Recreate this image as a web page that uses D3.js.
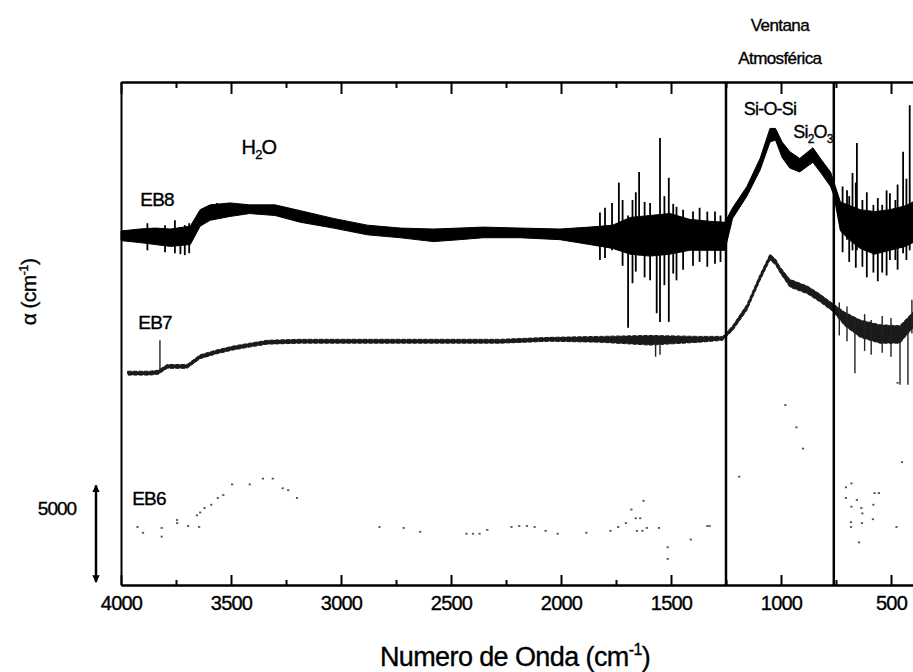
<!DOCTYPE html>
<html>
<head>
<meta charset="utf-8">
<script src="https://cdn.jsdelivr.net/npm/d3@7"></script>
<style>
  body { margin: 0; background: #fff; }
  svg { font-family: "Liberation Sans", Arial, sans-serif; }
  svg text { stroke: #000; stroke-width: 0.35px; }
</style>
</head>
<body>
<div id="chart"></div>
<script>
// wavenumber ticks (cm-1)
const waveTicks = [4000, 3500, 3000, 2500, 2000, 1500, 1000, 500];
const waveMinorTicks = [3750, 3250, 2750, 2250, 1750, 1250, 750];
const windowEdges = [1250, 760];

// EB8: envelope of the noisy trace (top / bottom), alpha in cm-1 with offset
const eb8Wave = [4000, 3915, 3845, 3775, 3685, 3640, 3595, 3505, 3415, 3300, 3185, 3035, 2880, 2730, 2580, 2460, 2355, 2185, 2005, 1870, 1765, 1685, 1595, 1505, 1415, 1325, 1255, 1220, 1155, 1095, 1050, 1025, 995, 960, 915, 855, 815, 775, 760, 730, 685, 640, 575, 505, 435, 400];
const eb8Top = [18300, 18400, 18450, 18400, 18550, 19400, 19650, 19750, 19650, 19650, 19350, 18950, 18600, 18450, 18400, 18450, 18500, 18450, 18400, 18500, 18600, 19000, 19100, 19200, 18900, 18800, 18750, 19500, 20600, 22050, 23600, 23600, 22900, 22400, 22050, 22600, 21950, 21350, 20850, 19800, 19600, 19400, 19300, 19400, 19600, 19800];
const eb8Bottom = [17800, 17700, 17600, 17500, 17600, 18550, 18850, 19050, 19200, 19100, 18750, 18450, 18100, 17950, 17750, 17850, 17950, 17950, 17850, 17600, 17400, 17100, 17000, 17100, 17300, 17300, 17300, 18950, 20100, 21450, 22900, 23000, 22100, 21550, 21350, 21850, 21250, 20600, 20150, 18300, 17800, 17400, 17100, 17300, 17500, 17700];
// EB8 spikes
const eb8SpikeWave = [3880, 3800, 3755, 3730, 3710, 3690, 3564, 1823, 1800, 1768, 1737, 1720, 1695, 1675, 1660, 1645, 1620, 1595, 1565, 1550, 1530, 1510, 1490, 1475, 1445, 1400, 1370, 1335, 1300, 1275, 720, 700, 690, 675, 660, 655, 630, 610, 580, 560, 540, 520, 505, 480, 470, 445, 430, 415];
const eb8SpikeTop = [18700, 18600, 18850, 18500, 18600, 18700, 19750, 19250, 19500, 19750, 20800, 19900, 19100, 19900, 20300, 21350, 19800, 19750, 19100, 23100, 20100, 21050, 19700, 19550, 19400, 19300, 19500, 19300, 19300, 19100, 20600, 20400, 20100, 21300, 20800, 22850, 19900, 20300, 19650, 20000, 19650, 20400, 20250, 19900, 20700, 22400, 21000, 24800];
const eb8SpikeBottom = [17300, 17200, 17150, 17100, 17050, 17150, 19100, 16800, 16900, 17300, 17400, 16500, 13300, 15600, 16200, 17050, 15900, 15750, 14050, 13600, 15500, 13600, 16100, 15750, 16300, 16500, 16700, 16450, 16600, 16700, 17200, 17850, 16700, 17300, 16400, 17300, 16450, 15900, 16150, 15700, 16150, 16000, 16800, 16800, 16300, 17150, 16800, 17300];

// EB7
const eb7Wave = [3970, 3870, 3830, 3790, 3700, 3640, 3565, 3490, 3415, 3335, 3185, 2730, 2275, 2050, 1825, 1595, 1370, 1265, 1220, 1155, 1095, 1050, 1025, 1005, 960, 880, 825, 765, 710, 640, 550, 460, 400];
const eb7Top = [11050, 11050, 11100, 11400, 11400, 11900, 12150, 12350, 12500, 12650, 12700, 12700, 12700, 12800, 12850, 12900, 12850, 12850, 13400, 14500, 16050, 17100, 16850, 16450, 15800, 15450, 15050, 14550, 14100, 13700, 13450, 13400, 14100];
const eb7Bottom = [10850, 10850, 10900, 11200, 11200, 11700, 11950, 12150, 12300, 12450, 12500, 12500, 12500, 12600, 12550, 12400, 12550, 12650, 13150, 14200, 15750, 16800, 16550, 16150, 15400, 15050, 14650, 14150, 13400, 12800, 12500, 12500, 13300];
const eb7SpikeWave = [3823, 1570, 1550, 735, 700, 664, 620, 590, 540, 500, 459, 423, 405];
const eb7SpikeTop = [12650, 12700, 12700, 14600, 14400, 13800, 14000, 13700, 13900, 13800, 13000, 13200, 14750];
const eb7SpikeBottom = [11000, 11800, 11900, 12900, 12600, 10950, 12100, 11900, 12000, 11800, 10350, 10350, 13000];

// EB6: scattered points
const eb6Wave = [3925, 3900, 3815, 3815, 3745, 3745, 3695, 3645, 3655, 3640, 3620, 3590, 3560, 3535, 3495, 3415, 3355, 3310, 3265, 3240, 3200, 2825, 2715, 2640, 2430, 2400, 2370, 2335, 2225, 2190, 2155, 2120, 2070, 2015, 1885, 1775, 1740, 1705, 1680, 1660, 1640, 1625, 1655, 1630, 1610, 1555, 1515, 1515, 1410, 1335, 1325, 1190, 980, 930, 900, 705, 680, 705, 680, 655, 635, 630, 580, 575, 555, 682, 632, 645, 682, 582, 475, 450, 470];
const eb6Alpha = [3000, 2700, 2950, 2500, 3360, 3200, 3050, 3000, 3600, 3750, 3980, 4150, 4500, 4650, 5200, 5200, 5500, 5500, 5000, 4900, 4500, 3000, 2950, 2750, 2650, 2650, 2650, 2850, 3000, 3050, 3050, 3000, 2800, 2650, 2700, 2800, 3000, 3200, 3900, 3450, 3450, 4350, 2800, 2800, 2950, 2950, 1950, 1350, 2350, 3050, 3050, 5600, 9300, 8150, 7050, 5050, 5250, 4500, 4050, 4400, 3980, 3700, 4150, 4750, 4750, 3250, 3200, 2200, 3000, 3400, 3000, 6350, 10450];

// scale bar: 5000 cm-1
const scaleBarFrom = 150;
const scaleBarValue = 5000;

const width = 913;
const height = 672;
const margin = { top: 82, right: 0, bottom: 87, left: 121 };

const x = d3.scaleLinear()
  .domain([4000, 400])
  .range([margin.left, width - margin.right]);

const y = d3.scaleLinear()
  .domain([0, 26000])
  .range([height - margin.bottom, margin.top]);

const svg = d3.select("#chart")
  .append("svg")
  .attr("width", width)
  .attr("height", height);

const defs = svg.append("defs");
defs.append("marker")
  .attr("id", "arrow")
  .attr("viewBox", "0 0 10 10")
  .attr("refX", 9)
  .attr("refY", 5)
  .attr("markerWidth", 3)
  .attr("markerHeight", 4)
  .attr("markerUnits", "strokeWidth")
  .attr("orient", "auto-start-reverse")
  .append("path")
  .attr("d", "M0,0L10,5L0,10z")
  .attr("fill", "#000");

// traces
const eb8 = eb8Wave.map((w, i) => ({ w, top: eb8Top[i], bottom: eb8Bottom[i] }));
const eb7 = eb7Wave.map((w, i) => ({ w, top: eb7Top[i], bottom: eb7Bottom[i] }));

const band = d3.area()
  .x((d) => x(d.w))
  .y0((d) => y(d.bottom))
  .y1((d) => y(d.top));

svg.append("path")
  .datum(eb8)
  .attr("fill", "#000")
  .attr("stroke", "#000")
  .attr("stroke-width", 1)
  .attr("d", band);

svg.append("g")
  .selectAll("line")
  .data(eb8SpikeWave)
  .join("line")
  .attr("x1", (d) => x(d))
  .attr("x2", (d) => x(d))
  .attr("y1", (d, i) => y(eb8SpikeTop[i]))
  .attr("y2", (d, i) => y(eb8SpikeBottom[i]))
  .attr("stroke", "#000")
  .attr("stroke-width", 1.8);

svg.append("path")
  .datum(eb7)
  .attr("fill", "#1a1a1a")
  .attr("stroke", "#1a1a1a")
  .attr("stroke-width", 1)
  .attr("stroke-dasharray", "4,1.5")
  .attr("d", band);

svg.append("g")
  .selectAll("line")
  .data(eb7SpikeWave)
  .join("line")
  .attr("x1", (d) => x(d))
  .attr("x2", (d) => x(d))
  .attr("y1", (d, i) => y(eb7SpikeTop[i]))
  .attr("y2", (d, i) => y(eb7SpikeBottom[i]))
  .attr("stroke", "#222")
  .attr("stroke-width", 1.4);

svg.append("g")
  .selectAll("rect")
  .data(eb6Wave)
  .join("rect")
  .attr("x", (d) => x(d) - 1.1)
  .attr("y", (d, i) => y(eb6Alpha[i]) - 0.9)
  .attr("width", 2.2)
  .attr("height", 1.8)
  .attr("fill", "#555");

// axes
const axisStyle = (g) => {
  g.selectAll(".domain").attr("stroke-width", 2);
  g.selectAll(".tick line").attr("stroke-width", 2);
};

svg.append("g")
  .attr("transform", `translate(0,${y(0)})`)
  .call(d3.axisBottom(x).tickValues(waveTicks).tickSize(-10).tickSizeOuter(0).tickPadding(11).tickFormat(d3.format("d")))
  .call(axisStyle)
  .call((g) => g.selectAll("text")
    .attr("font-size", 20)
    .attr("letter-spacing", -0.8)
    .attr("fill", "#000"));

svg.append("g")
  .attr("transform", `translate(0,${y(0)})`)
  .call(d3.axisBottom(x).tickValues(waveMinorTicks).tickSize(-5).tickSizeOuter(0).tickFormat(""))
  .call(axisStyle);

svg.append("g")
  .attr("transform", `translate(0,${margin.top})`)
  .call(d3.axisTop(x).tickValues(waveTicks).tickSize(-12).tickSizeOuter(0).tickFormat(""))
  .call(axisStyle);

svg.append("g")
  .attr("transform", `translate(0,${margin.top})`)
  .call(d3.axisTop(x).tickValues(waveMinorTicks).tickSize(-6).tickSizeOuter(0).tickFormat(""))
  .call(axisStyle);

svg.append("g")
  .attr("transform", `translate(${margin.left},0)`)
  .call(d3.axisLeft(y).tickValues([]).tickSizeOuter(0))
  .call(axisStyle);

// atmospheric window
svg.append("g")
  .selectAll("line")
  .data(windowEdges)
  .join("line")
  .attr("x1", (d) => x(d))
  .attr("x2", (d) => x(d))
  .attr("y1", margin.top)
  .attr("y2", y(0))
  .attr("stroke", "#000")
  .attr("stroke-width", 2.5);

const windowCenter = (x(windowEdges[0]) + x(windowEdges[1])) / 2;
svg.append("text")
  .attr("x", windowCenter)
  .attr("y", 31)
  .attr("text-anchor", "middle")
  .attr("font-size", 17)
  .attr("letter-spacing", -0.6)
  .text("Ventana");
svg.append("text")
  .attr("x", windowCenter)
  .attr("y", 64)
  .attr("text-anchor", "middle")
  .attr("font-size", 17)
  .attr("letter-spacing", -0.6)
  .text("Atmosférica");

// scale bar
svg.append("line")
  .attr("x1", 96)
  .attr("x2", 96)
  .attr("y1", y(scaleBarFrom))
  .attr("y2", y(scaleBarFrom + scaleBarValue))
  .attr("stroke", "#000")
  .attr("stroke-width", 2.5)
  .attr("marker-start", "url(#arrow)")
  .attr("marker-end", "url(#arrow)");

svg.append("text")
  .attr("x", 57)
  .attr("y", 515)
  .attr("text-anchor", "middle")
  .attr("font-size", 19)
  .attr("letter-spacing", -1)
  .text(d3.format("d")(scaleBarValue));

// series labels
const labelG = svg.append("g")
  .attr("font-size", 19)
  .attr("letter-spacing", -0.8)
  .attr("text-anchor", "middle");

labelG.append("text").attr("x", x(3836)).attr("y", y(19950) + 7).text("EB8");
labelG.append("text").attr("x", x(3845)).attr("y", y(13600) + 7).text("EB7");
labelG.append("text").attr("x", x(3873)).attr("y", y(4500) + 7).text("EB6");

const h2o = labelG.append("text").attr("x", x(3373)).attr("y", y(22640) + 7).attr("font-size", 20);
h2o.append("tspan").text("H");
h2o.append("tspan").attr("font-size", 13).attr("dy", 5).text("2");
h2o.append("tspan").attr("dy", -5).text("O");

labelG.append("text")
  .attr("x", x(1050))
  .attr("y", y(24600) + 6)
  .attr("font-size", 18)
  .text("Si-O-Si");

const sio = labelG.append("text")
  .attr("x", x(855))
  .attr("y", y(23400) + 6)
  .attr("font-size", 18);
sio.append("tspan").text("Si");
sio.append("tspan").attr("font-size", 12).attr("dy", 5).text("2");
sio.append("tspan").attr("dy", -5).text("O");
sio.append("tspan").attr("font-size", 12).attr("dy", 5).text("3");

// axis titles
const xTitle = svg.append("text")
  .attr("x", (x(4000) + x(400)) / 2 - 2)
  .attr("y", 666)
  .attr("text-anchor", "middle")
  .attr("font-size", 27)
  .attr("letter-spacing", -0.6);
xTitle.append("tspan").text("Numero de Onda (cm");
xTitle.append("tspan").attr("font-size", 16).attr("dy", -11).text("-1");
xTitle.append("tspan").attr("dy", 11).text(")");

const yTitle = svg.append("text")
  .attr("transform", "translate(36,292) rotate(-90)")
  .attr("text-anchor", "middle")
  .attr("font-size", 21)
  .attr("letter-spacing", -0.6);
yTitle.append("tspan").text("α (cm");
yTitle.append("tspan").attr("font-size", 13).attr("dy", -8).text("-1");
yTitle.append("tspan").attr("dy", 8).text(")");
</script>
</body>
</html>
